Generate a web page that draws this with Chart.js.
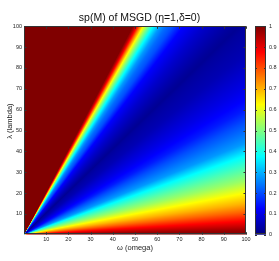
<!DOCTYPE html>
<html><head><meta charset="utf-8">
<script src="https://cdn.jsdelivr.net/npm/chart.js@4/dist/chart.umd.min.js"></script>
<style>html,body{margin:0;padding:0;background:#fff;overflow:hidden}canvas{display:block}</style>
</head><body>
<canvas id="c" width="279" height="261"></canvas>
<script>
const chartTitle = 'sp(M) of MSGD (η=1,δ=0)';
const xAxisTitle = 'ω (omega)';
const yAxisTitle = 'λ (lambda)';
// sp(M) read along the top edge of the map (λ = 100)
const topOmega = [0, 49, 50, 51, 52.3, 53.7, 55.3, 56.7, 58.2, 61.3, 64, 67, 71.8, 76, 80.8, 87, 93, 97, 100];
const topValue = [1, 1, 0.95, 0.875, 0.75, 0.625, 0.525, 0.45, 0.375, 0.275, 0.23, 0.2, 0.125, 0.1, 0.075, 0.05, 0.03, 0.02, 0.03];
// sp(M) read along the right edge of the map (ω = 100)
const rightLambda = [94, 87, 79, 71, 65, 60, 54, 44, 38, 32, 26, 20, 15, 11, 6.5, 4, 2, 0];
const rightValue = [0.04, 0.05, 0.075, 0.1, 0.125, 0.15, 0.2, 0.275, 0.375, 0.45, 0.525, 0.625, 0.7, 0.775, 0.875, 0.93, 0.975, 1];
const xTicks = [10, 20, 30, 40, 50, 60, 70, 80, 90, 100];
const yTicks = [10, 20, 30, 40, 50, 60, 70, 80, 90, 100];
const cbTicks = [0, 0.1, 0.2, 0.3, 0.4, 0.5, 0.6, 0.7, 0.8, 0.9, 1];
const cbTickLabels = ['0', '0.1', '0.2', '0.3', '0.4', '0.5', '0.6', '0.7', '0.8', '0.9', '1'];

const FONT = 'Liberation Sans, Arial, Helvetica, sans-serif';

const points = topOmega.map((w, i) => ({x: w, y: 100, v: topValue[i]}))
  .concat(rightLambda.map((l, i) => ({x: 100, y: l, v: rightValue[i]})));

function jet(v) {
  v = Math.max(0, Math.min(1, v));
  const c = t => Math.round(255 * Math.max(0, Math.min(1, 1.5 - Math.abs(4 * v - t))));
  return 'rgb(' + c(3) + ',' + c(2) + ',' + c(1) + ')';
}

const heatPlugin = {
  id: 'heat',
  beforeDatasetsDraw(chart) {
    const {ctx, chartArea: a, scales: {x, y}} = chart;
    const pts = chart.data.datasets[0].data;
    const ox = x.getPixelForValue(0), oy = y.getPixelForValue(0);
    const pix = pts.map(p => [x.getPixelForValue(p.x), y.getPixelForValue(p.y)]);
    ctx.save();
    ctx.beginPath(); ctx.rect(a.left, a.top, a.width, a.height); ctx.clip();
    if (ctx.createConicGradient) {
      const g = ctx.createConicGradient(-Math.PI / 2, ox, oy);
      pts.forEach((p, i) => {
        let off = (Math.atan2(pix[i][1] - oy, pix[i][0] - ox) + Math.PI / 2) / (2 * Math.PI);
        off = Math.min(Math.max(off, 0), 1);
        g.addColorStop(off, jet(p.v));
      });
      g.addColorStop(1, jet(pts[pts.length - 1].v));
      ctx.beginPath();
      ctx.moveTo(ox, oy);
      pix.forEach(q => ctx.lineTo(q[0], q[1]));
      ctx.closePath();
      ctx.fillStyle = g;
      ctx.fill();
    } else {
      for (let i = 0; i < pts.length - 1; i++) {
        ctx.beginPath();
        ctx.moveTo(ox, oy); ctx.lineTo(pix[i][0], pix[i][1]); ctx.lineTo(pix[i + 1][0], pix[i + 1][1]);
        ctx.closePath();
        ctx.fillStyle = jet((pts[i].v + pts[i + 1].v) / 2);
        ctx.fill();
      }
    }
    ctx.restore();
  },
  afterDraw(chart) {
    const {ctx, chartArea: a, scales: {x, y, cb}} = chart;
    ctx.save();
    ctx.strokeStyle = '#333';
    ctx.lineWidth = 1;
    // plot box
    ctx.strokeRect(Math.round(a.left) + 0.5, Math.round(a.top) + 0.5, Math.round(a.width) - 1, Math.round(a.height) - 1);
    ctx.beginPath();
    xTicks.forEach(t => {
      const px = Math.round(x.getPixelForValue(t)) + 0.5;
      ctx.moveTo(px, a.bottom); ctx.lineTo(px, a.bottom - 2.5);
      ctx.moveTo(px, a.top); ctx.lineTo(px, a.top + 2.5);
    });
    yTicks.forEach(t => {
      const py = Math.round(y.getPixelForValue(t)) + 0.5;
      ctx.moveTo(a.left, py); ctx.lineTo(a.left + 2.5, py);
      ctx.moveTo(a.right, py); ctx.lineTo(a.right - 2.5, py);
    });
    ctx.stroke();
    // colorbar
    const cx0 = cb.left + 9, cw = 11;
    const ct = cb.getPixelForValue(1), cbt = cb.getPixelForValue(0);
    const lg = ctx.createLinearGradient(0, cbt, 0, ct);
    for (let k = 0; k <= 64; k++) lg.addColorStop(k / 64, jet(k / 64));
    ctx.fillStyle = lg;
    ctx.fillRect(cx0, ct, cw, cbt - ct);
    ctx.strokeRect(Math.round(cx0) + 0.5, Math.round(ct) + 0.5, cw - 1, Math.round(cbt - ct) - 1);
    ctx.beginPath();
    cbTicks.forEach(t => {
      const py = Math.round(cb.getPixelForValue(t)) + 0.5;
      ctx.moveTo(cx0, py); ctx.lineTo(cx0 + 2, py);
      ctx.moveTo(cx0 + cw, py); ctx.lineTo(cx0 + cw - 2, py);
    });
    ctx.stroke();
    // y axis title (slightly above axis centre, as in the reference)
    ctx.translate(10, a.top + a.height * 0.455);
    ctx.rotate(-Math.PI / 2);
    ctx.fillStyle = '#222';
    ctx.font = '7.5px ' + FONT;
    ctx.textAlign = 'center';
    ctx.textBaseline = 'middle';
    ctx.fillText(yAxisTitle, 0, 0);
    ctx.restore();
  }
};

new Chart(document.getElementById('c'), {
  type: 'scatter',
  data: {datasets: [{data: points, pointRadius: 0, pointHoverRadius: 0, showLine: false}]},
  options: {
    responsive: false, animation: false, devicePixelRatio: 1,
    layout: {padding: 0},
    events: [],
    plugins: {
      legend: {display: false}, tooltip: {enabled: false},
      title: {display: true, text: chartTitle, color: '#111',
        font: {family: FONT, size: 10.5, weight: 'normal', lineHeight: 1.2},
        padding: {top: 4.5, bottom: 2}}
    },
    scales: {
      x: {type: 'linear', position: 'bottom', min: 0, max: 100,
        afterBuildTicks: s => { s.ticks = xTicks.map(v => ({value: v})); },
        afterFit: s => { s.height = 20; },
        grid: {display: false, drawTicks: false}, border: {display: false},
        ticks: {font: {family: FONT, size: 5.5}, color: '#222', padding: 1.5, maxRotation: 0, autoSkip: false},
        title: {display: true, text: xAxisTitle, color: '#222', font: {family: FONT, size: 7.5, lineHeight: 1.2}, padding: {top: 0, bottom: 2.5}}},
      y: {type: 'linear', position: 'left', min: 0, max: 100,
        afterBuildTicks: s => { s.ticks = yTicks.map(v => ({value: v})); },
        afterFit: s => { s.width = 24; },
        grid: {display: false, drawTicks: false}, border: {display: false},
        ticks: {font: {family: FONT, size: 5.5}, color: '#222', padding: 2, autoSkip: false},
        title: {display: false, text: yAxisTitle}},
      cb: {type: 'linear', position: 'right', min: 0, max: 1,
        afterBuildTicks: s => { s.ticks = cbTicks.map(v => ({value: v})); },
        afterFit: s => { s.width = 33; },
        grid: {display: false, drawTicks: false}, border: {display: false},
        ticks: {font: {family: FONT, size: 5.5}, color: '#222', padding: 23, autoSkip: false,
          callback: (v, i) => cbTickLabels[i]}}
    }
  },
  plugins: [heatPlugin]
});
</script>
</body></html>
